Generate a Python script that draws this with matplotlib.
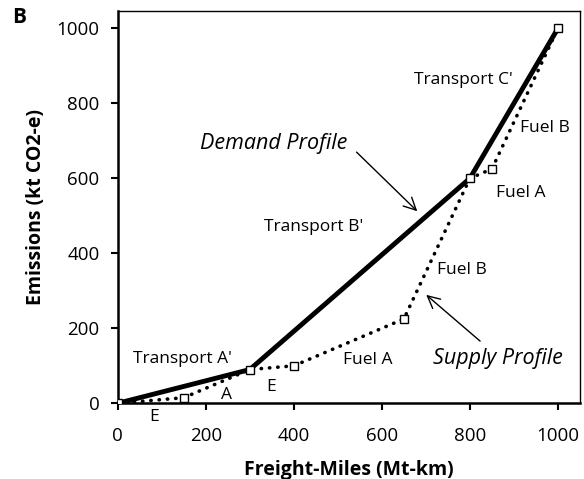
import matplotlib.pyplot as plt

plt.rcParams['font.family'] = ['Open Sans', 'DejaVu Sans']

demand_x = [0, 300, 800, 1000]
demand_y = [0, 90, 600, 1000]
supply_x = [0, 150, 300, 400, 650, 800, 850, 1000]
supply_y = [0, 15, 90, 100, 225, 600, 625, 1000]
ticks = [0, 200, 400, 600, 800, 1000]

fig = plt.figure(figsize=(5.84, 4.79), dpi=100)
ax = fig.add_axes([0.2015, 0.158, 0.7916, 0.819])

ax.plot(supply_x, supply_y, color='black', lw=2.6, linestyle=(0, (0.1, 2.2)),
        dash_capstyle='round', zorder=2)
ax.plot(demand_x, demand_y, color='black', lw=3.5, zorder=3)
ax.plot(supply_x, supply_y, linestyle='none', marker='s', ms=5.2, mfc='white',
        mec='black', mew=1.0, zorder=4)

ax.set_xlim(0, 1050)
ax.set_ylim(0, 1046)
ax.set_xticks(ticks)
ax.set_yticks(ticks)
ax.tick_params(labelsize=13.5, width=1.5, length=5, direction='out', pad=8)
ax.tick_params(axis='x', pad=12)
for s in ['top', 'right']:
    ax.spines[s].set_linewidth(1.0)
for s in ['left', 'bottom']:
    ax.spines[s].set_linewidth(1.8)

ax.set_xlabel('Freight-Miles (Mt-km)', fontsize=14, fontweight='bold', labelpad=11)
ax.set_ylabel('Emissions (kt CO2-e)', fontsize=14, fontweight='bold', labelpad=8)

fs = 12.5
ax.text(146, 118, "Transport A'", fontsize=fs, ha='center', va='center')
ax.text(83, -36, 'E', fontsize=fs, ha='center', va='center', clip_on=False)
ax.text(248, 22, 'A', fontsize=fs, ha='center', va='center')
ax.text(348, 44, 'E', fontsize=fs, ha='center', va='center')
ax.text(569, 116, 'Fuel A', fontsize=fs, ha='center', va='center')
ax.text(444, 470, "Transport B'", fontsize=fs, ha='center', va='center')
ax.text(785, 862, "Transport C'", fontsize=fs, ha='center', va='center')
ax.text(971, 734, 'Fuel B', fontsize=fs, ha='center', va='center')
ax.text(915, 561, 'Fuel A', fontsize=fs, ha='center', va='center')
ax.text(783, 355, 'Fuel B', fontsize=fs, ha='center', va='center')

ax.text(355, 694, 'Demand Profile', fontsize=15.5, style='italic', ha='center', va='center')
ax.annotate('', xy=(685, 507), xytext=(538, 675),
            arrowprops=dict(arrowstyle='->', color='black', lw=1.0, mutation_scale=22))
ax.text(864, 119, 'Supply Profile', fontsize=15.5, style='italic', ha='center', va='center')
ax.annotate('', xy=(696, 294), xytext=(828, 161),
            arrowprops=dict(arrowstyle='->', color='black', lw=1.0, mutation_scale=22))

fig.text(0.02, 0.9645, 'B', fontsize=15, fontweight='bold', ha='left', va='center')

fig.savefig('out.png', dpi=100)
